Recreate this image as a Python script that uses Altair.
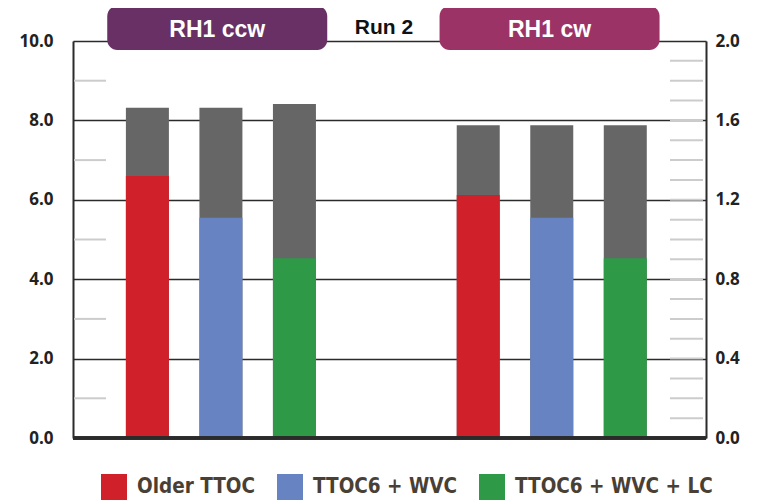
import altair as alt
import pandas as pd

# ---- data ----
groups = ["RH1 ccw"] * 3 + ["RH1 cw"] * 3
series = ["Older TTOC", "TTOC6 + WVC", "TTOC6 + WVC + LC"] * 2
slots = [1, 2, 3, 5.5, 6.5, 7.5]
base_vals = [6.6, 5.55, 4.53, 6.12, 5.55, 4.53]
total_vals = [8.32, 8.32, 8.41, 7.88, 7.88, 7.88]

left_ticks = [0, 2, 4, 6, 8, 10]
left_minor = [1, 3, 5, 7, 9]
right_ticks = [0.0, 0.4, 0.8, 1.2, 1.6, 2.0]
right_minor = [0.1, 0.2, 0.3, 0.4, 0.5, 0.6, 0.7, 0.8, 0.9, 1.0,
               1.1, 1.2, 1.3, 1.4, 1.5, 1.6, 1.7, 1.8, 1.9]

banner_labels = ["RH1 ccw", "RH1 cw"]
banner_centers = [1.95, 6.47]
banner_colors = ["#683064", "#9B3366"]

series_order = ["Older TTOC", "TTOC6 + WVC", "TTOC6 + WVC + LC"]
series_colors = ["#D0202A", "#6783C1", "#2E9A47"]

W, H = 633, 397
DARK = "#2b2b2b"
LABEL_FONT = "Open Sans"
LEGEND_FONT = "'DejaVu Sans Condensed', 'DejaVu Sans', sans-serif"

bars = pd.DataFrame({"group": groups, "series": series, "slot": slots,
                     "base": base_vals, "total": total_vals})
lminor = pd.DataFrame({"v": left_minor})
rminor = pd.DataFrame({"v": right_minor})
banners = pd.DataFrame({"label": banner_labels, "c": banner_centers, "col": banner_colors})

xscale = alt.Scale(domain=[0.056, 8.53])
yscale = alt.Scale(domain=[0, 10], nice=False)

y_left = alt.Y("total:Q", scale=yscale, title=None,
               axis=alt.Axis(values=left_ticks, format=".1f", grid=True, gridColor=DARK,
                             gridWidth=1.5, ticks=False, tickSize=0, domainColor=DARK,
                             domainWidth=2, labelPadding=20, labelFont=LABEL_FONT,
                             labelFontSize=17, labelFontWeight="bold", labelColor="#222"))

grey = alt.Chart(bars).mark_bar(width=43, color="#666666").encode(
    x=alt.X("slot:Q", scale=xscale, axis=None), y=y_left)

colored = alt.Chart(bars).mark_bar(width=43).encode(
    x=alt.X("slot:Q", scale=xscale, axis=None),
    y=alt.Y("base:Q", scale=yscale),
    color=alt.Color("series:N", scale=alt.Scale(domain=series_order, range=series_colors),
                    legend=alt.Legend(title=None, orient="none", legendX=28, legendY=433,
                                      direction="horizontal", symbolType="square",
                                      symbolSize=676, symbolStrokeWidth=0, symbolOpacity=1,
                                      labelFont=LEGEND_FONT, labelFontSize=20.5,
                                      labelFontWeight="bold", labelColor="#4a3f35",
                                      labelOffset=10, columnPadding=21, labelLimit=300)))

lmin = alt.Chart(lminor).mark_rule(color="#cccccc", strokeWidth=2).encode(
    y=alt.Y("v:Q", scale=yscale), x=alt.value(1), x2=alt.value(33))

left = alt.layer(lmin, grey, colored)

rmin = alt.Chart(rminor).mark_rule(color="#cccccc", strokeWidth=2).encode(
    y=alt.Y("v:Q", scale=alt.Scale(domain=[0, 2], nice=False), title=None,
            axis=alt.Axis(orient="right", values=right_ticks, format=".1f", grid=False,
                          ticks=False, tickSize=0, domainColor=DARK, domainWidth=2,
                          labelPadding=9, labelFont=LABEL_FONT, labelFontSize=17,
                          labelFontWeight="bold", labelColor="#222")),
    x=alt.value(W - 36), x2=alt.value(W - 3))

bottom = alt.Chart(lminor).mark_rule(color=DARK, strokeWidth=3).encode(
    x=alt.value(0), x2=alt.value(W), y=alt.value(H))

banner_rect = alt.Chart(banners).mark_bar(width=220, cornerRadius=10).encode(
    x=alt.X("c:Q", scale=xscale, axis=None),
    y=alt.value(-35), y2=alt.value(9),
    color=alt.Color("col:N", scale=None, legend=None))

banner_text = alt.Chart(banners).mark_text(
    color="white", font="Liberation Sans", fontSize=23, fontWeight="bold",
    baseline="middle").encode(
    x=alt.X("c:Q", scale=xscale, axis=None), y=alt.value(-11), text="label:N")

run_text = alt.Chart(banners.head(1)).mark_text(
    text="Run 2", color="#111", font="Liberation Sans", fontSize=21, fontWeight="bold",
    baseline="middle").encode(x=alt.value(311), y=alt.value(-13))

right = alt.layer(rmin, bottom, banner_rect, banner_text, run_text)

chart = alt.layer(left, right).resolve_scale(y="independent", color="independent").properties(
    width=W, height=H,
    autosize=alt.AutoSizeParams(type="none"),
    padding={"left": 65, "top": 33, "right": 45, "bottom": 62},
).configure_view(stroke=None).configure(background="white")

chart.save("out.html", embed_options={"renderer": "svg", "actions": False})
